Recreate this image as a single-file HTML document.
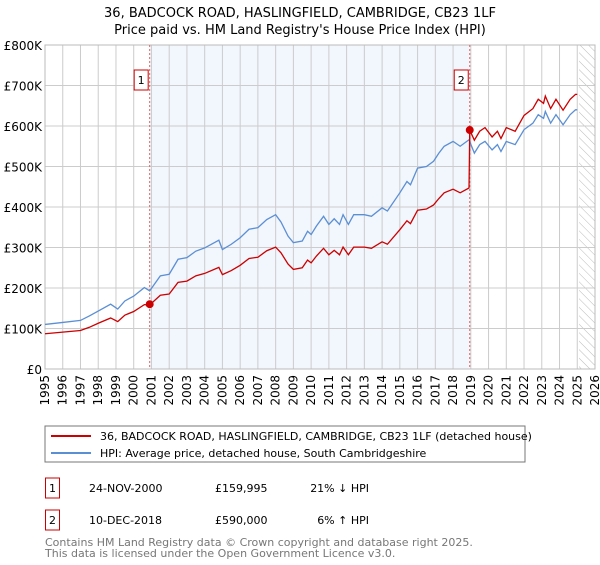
<!DOCTYPE html>
<html><head><meta charset="utf-8"><style>
body{margin:0;background:#fff;font-family:"Liberation Sans","DejaVu Sans",sans-serif;}
svg text{font-family:"DejaVu Sans","Liberation Sans",sans-serif;}
</style></head><body>
<svg id="chart" width="600" height="560" viewBox="0 0 600 560">
<text x="300" y="17" text-anchor="middle" font-size="13" fill="#000">36, BADCOCK ROAD, HASLINGFIELD, CAMBRIDGE, CB23 1LF</text>
<text x="300" y="34" text-anchor="middle" font-size="13" fill="#000">Price paid vs. HM Land Registry's House Price Index (HPI)</text>
<g id="plot"></g>
<rect x="45" y="426" width="480" height="36" fill="#fff" stroke="#777"/>
<line x1="51" y1="436" x2="91" y2="436" stroke="#cc0000" stroke-width="2"/>
<text x="100" y="440" font-size="11">36, BADCOCK ROAD, HASLINGFIELD, CAMBRIDGE, CB23 1LF (detached house)</text>
<line x1="51" y1="453" x2="91" y2="453" stroke="#5b8fd4" stroke-width="2"/>
<text x="100" y="457" font-size="11">HPI: Average price, detached house, South Cambridgeshire</text>
<rect x="45.5" y="478" width="14" height="20" fill="none" stroke="#cc0000"/>
<text x="52.5" y="492" font-size="11" text-anchor="middle">1</text>
<text x="89" y="492" font-size="11">24-NOV-2000</text>
<text x="215" y="492" font-size="11">£159,995</text>
<text x="369" y="492" font-size="11" text-anchor="end">21% ↓ HPI</text>
<rect x="45.5" y="510" width="14" height="20" fill="none" stroke="#cc0000"/>
<text x="52.5" y="524" font-size="11" text-anchor="middle">2</text>
<text x="89" y="524" font-size="11">10-DEC-2018</text>
<text x="215" y="524" font-size="11">£590,000</text>
<text x="369" y="524" font-size="11" text-anchor="end">6% ↑ HPI</text>
<text x="45" y="546" font-size="11" fill="#777">Contains HM Land Registry data © Crown copyright and database right 2025.</text>
<text x="45" y="557" font-size="11" fill="#777">This data is licensed under the Open Government Licence v3.0.</text>
</svg>
<script>
const hpiYears=[1995,1996,1997,1997.5,1998,1998.7,1999.1,1999.5,2000,2000.6,2000.9,2001.5,2002,2002.5,2003,2003.5,2004,2004.8,2005,2005.5,2006,2006.5,2007,2007.5,2008,2008.3,2008.7,2009,2009.5,2009.8,2010,2010.3,2010.7,2011,2011.3,2011.6,2011.8,2012.1,2012.4,2013,2013.4,2014,2014.3,2015,2015.4,2015.6,2016,2016.5,2016.9,2017.2,2017.5,2018,2018.4,2018.9,2019.2,2019.5,2019.8,2020.2,2020.5,2020.7,2021,2021.5,2022,2022.5,2022.8,2023.1,2023.2,2023.5,2023.8,2024.2,2024.6,2024.9,2025.0];
const hpiValues=[110,115,120,131,143,160,148,168,180,201,193,230,234,271,275,291,299,318,295,308,324,345,349,369,381,363,328,312,316,340,332,353,377,357,371,357,381,357,381,381,377,398,390,435,463,455,496,500,513,533,550,562,550,566,533,554,562,541,554,537,562,554,591,607,628,619,636,607,628,603,628,640,640];
const redYears=[1995,1996,1997,1997.5,1998,1998.7,1999.1,1999.5,2000,2000.6,2000.9,2001.5,2002,2002.5,2003,2003.5,2004,2004.8,2005,2005.5,2006,2006.5,2007,2007.5,2008,2008.3,2008.7,2009,2009.5,2009.8,2010,2010.3,2010.7,2011,2011.3,2011.6,2011.8,2012.1,2012.4,2013,2013.4,2014,2014.3,2015,2015.4,2015.6,2016,2016.5,2016.9,2017.2,2017.5,2018,2018.4,2018.9,2018.94,2019.2,2019.5,2019.8,2020.2,2020.5,2020.7,2021,2021.5,2022,2022.5,2022.8,2023.1,2023.2,2023.5,2023.8,2024.2,2024.6,2024.9,2025.0];
const redValues=[87,91,95,103,113,126,117,133,142,159,158,182,185,214,217,230,236,251,233,243,256,273,276,292,301,287,259,246,250,269,262,279,298,282,293,282,301,282,301,301,298,314,308,344,366,359,392,395,405,421,435,444,435,447,590,565,587,596,573,587,569,596,587,626,643,666,656,674,643,666,639,666,678,678];
const saleYears=[2000.9,2018.94];
const saleValues=[159.995,590];
const saleLabels=["1","2"];
const yTicks=[0,100,200,300,400,500,600,700,800];
const yTickLabels=["£0","£100K","£200K","£300K","£400K","£500K","£600K","£700K","£800K"];
const xTicks=[1995,1996,1997,1998,1999,2000,2001,2002,2003,2004,2005,2006,2007,2008,2009,2010,2011,2012,2013,2014,2015,2016,2017,2018,2019,2020,2021,2022,2023,2024,2025,2026];

const NS="http://www.w3.org/2000/svg";
const L=45,R=595,T=45,B=369;
const xs=y=>L+(y-1995)/(2026-1995)*(R-L);
const ys=v=>B-v/800*(B-T);
const g=document.getElementById('plot');
function mk(tag,attrs){const e=document.createElementNS(NS,tag);for(const k in attrs)e.setAttribute(k,attrs[k]);g.appendChild(e);return e;}
let e;
e=mk('rect',{x:xs(saleYears[0]),y:T,width:xs(saleYears[1])-xs(saleYears[0]),height:B-T,fill:'#f2f6fd'});


const defs=document.createElementNS(NS,'defs');
defs.innerHTML='<pattern id="hatch" width="6" height="6" patternUnits="userSpaceOnUse" patternTransform="rotate(-45)"><line x1="0" y1="0" x2="0" y2="6" stroke="#bbb" stroke-width="1"/></pattern>';
g.appendChild(defs);
e=mk('rect',{x:xs(2025.1),y:T,width:R-xs(2025.1),height:B-T,fill:'url(#hatch)'});


xTicks.forEach((t,i)=>{
  e=mk('line',{x1:xs(t),y1:T,x2:xs(t),y2:B,stroke:'#ccc','stroke-width':1});
  
  
  e=mk('text',{x:0,y:0,transform:`translate(${xs(t)+4},${B+6}) rotate(-90)`,'text-anchor':'end','font-size':12});
  e.textContent=t;
  
  
});
yTicks.forEach((t,i)=>{
  e=mk('line',{x1:L,y1:ys(t),x2:R,y2:ys(t),stroke:'#ccc','stroke-width':1});
  
  
  e=mk('text',{x:L-3,y:ys(t)+5,'text-anchor':'end','font-size':12});
  e.textContent=yTickLabels[i];
  
  
});
e=mk('rect',{x:L,y:T,width:R-L,height:B-T,fill:'none',stroke:'#bbb'});


saleYears.forEach((s,i)=>{
  e=mk('line',{x1:xs(s),y1:T,x2:xs(s),y2:B,stroke:'#e06060','stroke-width':1,'stroke-dasharray':'2,2'});
  
  
});
e=mk('polyline',{points:hpiYears.map((y,i)=>xs(y)+','+ys(hpiValues[i])).join(' '),fill:'none',stroke:'#5b8fd4','stroke-width':1.3});


e=mk('polyline',{points:redYears.map((y,i)=>xs(y)+','+ys(redValues[i])).join(' '),fill:'none',stroke:'#cc0000','stroke-width':1.3});


saleYears.forEach((s,i)=>{
  e=mk('circle',{cx:xs(s),cy:ys(saleValues[i]),r:4,fill:'#cc0000'});
  
  
  e=mk('rect',{x:xs(s)-15.5,y:70,width:14,height:20,fill:'#fff',stroke:'#cc0000'});
  
  
  e=mk('text',{x:xs(s)-8.5,y:84,'text-anchor':'middle','font-size':11});
  e.textContent=saleLabels[i];
  
  
});
</script>
</body></html>
